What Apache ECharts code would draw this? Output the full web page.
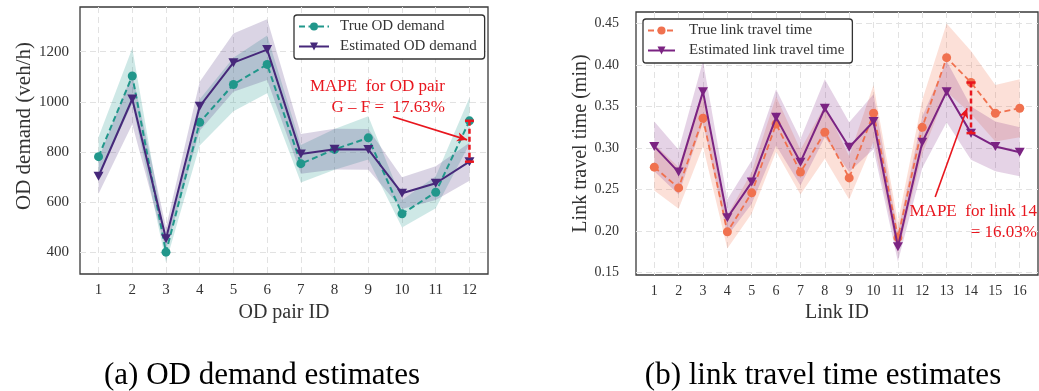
<!DOCTYPE html>
<html>
<head>
<meta charset="utf-8">
<script src="https://cdn.jsdelivr.net/npm/echarts@6/dist/echarts.min.js"></script>
<style>
  html, body { margin: 0; padding: 0; background: #fff; }
  #chart { width: 1039px; height: 391px; }
</style>
</head>
<body>
<div id="chart"></div>
<script>
// ---- (a) OD demand ----
const odPairIds = [1, 2, 3, 4, 5, 6, 7, 8, 9, 10, 11, 12];
const odTickLabels = ['1', '2', '3', '4', '5', '6', '7', '8', '9', '10', '11', '12'];
const odYTicks = [400, 600, 800, 1000, 1200];
const trueOD = [781, 1103, 400, 918, 1069, 1149, 753, 810, 856, 553, 639, 924];
const trueODUpper = [859, 1213, 440, 1010, 1176, 1264, 828, 891, 942, 608, 703, 1016];
const trueODLower = [703, 993, 360, 826, 962, 1034, 678, 729, 770, 498, 575, 832];
const estOD = [703, 1011, 454, 982, 1156, 1208, 792, 811, 810, 635, 675, 761];
const estODUpper = [773, 1112, 499, 1080, 1272, 1329, 871, 892, 891, 699, 743, 837];
const estODLower = [633, 910, 409, 884, 1040, 1087, 713, 730, 729, 572, 608, 685];

// ---- (b) link travel time ----
const linkIds = [1, 2, 3, 4, 5, 6, 7, 8, 9, 10, 11, 12, 13, 14, 15, 16];
const linkTickLabels = ['1', '2', '3', '4', '5', '6', '7', '8', '9', '10', '11', '12', '13', '14', '15', '16'];
const ttYTicks = [0.15, 0.20, 0.25, 0.30, 0.35, 0.40, 0.45];
const trueTT = [0.277, 0.252, 0.336, 0.199, 0.246, 0.329, 0.271, 0.319, 0.264, 0.342, 0.192, 0.325, 0.409, 0.379, 0.342, 0.348];
const trueTTUpper = [0.305, 0.277, 0.370, 0.219, 0.271, 0.362, 0.298, 0.351, 0.290, 0.376, 0.211, 0.358, 0.450, 0.417, 0.376, 0.383];
const trueTTLower = [0.249, 0.227, 0.302, 0.179, 0.221, 0.296, 0.244, 0.287, 0.238, 0.308, 0.173, 0.293, 0.368, 0.341, 0.308, 0.313];
const estTT = [0.302, 0.271, 0.368, 0.216, 0.259, 0.337, 0.283, 0.348, 0.301, 0.332, 0.181, 0.307, 0.368, 0.318, 0.302, 0.295];
const estTTUpper = [0.332, 0.298, 0.405, 0.238, 0.285, 0.371, 0.311, 0.383, 0.331, 0.365, 0.199, 0.338, 0.405, 0.350, 0.332, 0.325];
const estTTLower = [0.272, 0.244, 0.331, 0.194, 0.233, 0.303, 0.255, 0.313, 0.271, 0.299, 0.163, 0.276, 0.331, 0.286, 0.272, 0.266];

// highlighted MAPE gaps
const odHighlight = 12;      // OD pair G – F
const linkHighlight = 14;

const SERIF = '"Liberation Serif", "Times New Roman", serif';
const TEXT = '#333';
const RED = '#e8161e';
const GRIDLINE = { show: true, lineStyle: { color: '#e2e2e2', width: 1, type: [6, 4] } };

const C_TEAL = '#21978b', C_PURPLE_A = '#46287a';
const C_CORAL = '#f0714f', C_PURPLE_B = '#7b2382';

function pairs(ids, vals) { return ids.map((id, i) => [id, vals[i]]); }

// filled uncertainty band drawn as one polygon through the library's scales
function band(axisIdx, ids, lo, hi, fill) {
  return {
    type: 'custom', xAxisIndex: axisIdx, yAxisIndex: axisIdx, z: 1, silent: true,
    data: ids.map((id, i) => [id, lo[i], hi[i]]),
    encode: { x: 0, y: [1, 2] },
    renderItem(params, api) {
      if (params.dataIndex !== 0) return null;
      const up = ids.map((id, i) => api.coord([id, hi[i]]));
      const dn = ids.map((id, i) => api.coord([id, lo[i]])).reverse();
      return { type: 'polygon', shape: { points: up.concat(dn) }, style: { fill } };
    }
  };
}

// dashed red gap bar between true and estimated values at one id
function gapBar(axisIdx, id, a, b) {
  return {
    type: 'custom', xAxisIndex: axisIdx, yAxisIndex: axisIdx, z: 5, silent: true,
    data: [[id, a, b]],
    encode: { x: 0, y: [1, 2] },
    renderItem(params, api) {
      const p1 = api.coord([api.value(0), api.value(1)]);
      const p2 = api.coord([api.value(0), api.value(2)]);
      const cap = 4.5;
      return {
        type: 'group', children: [
          { type: 'line', shape: { x1: p1[0], y1: p1[1], x2: p2[0], y2: p2[1] },
            style: { stroke: RED, lineWidth: 2.5, lineDash: [5, 3] } },
          { type: 'line', shape: { x1: p1[0] - cap, y1: p1[1], x2: p1[0] + cap, y2: p1[1] },
            style: { stroke: RED, lineWidth: 2.5 } },
          { type: 'line', shape: { x1: p2[0] - cap, y1: p2[1], x2: p2[0] + cap, y2: p2[1] },
            style: { stroke: RED, lineWidth: 2.5 } }
        ]
      };
    }
  };
}

function arrow(from, to) {
  return {
    silent: true, animation: false,
    symbol: ['none', 'arrow'], symbolSize: [7, 10],
    lineStyle: { color: RED, width: 1.6, type: 'solid' },
    label: { show: false },
    emphasis: { disabled: true },
    data: [[{ coord: from }, { coord: to }]]
  };
}

function xAxis(gridIndex, ids, labels, min, max, name, size) {
  return {
    type: 'value', gridIndex, min, max,
    name, nameLocation: 'middle', nameGap: 28,
    nameTextStyle: { fontFamily: SERIF, fontSize: 20, color: TEXT },
    axisLine: { show: false },
    axisTick: { show: false, customValues: ids },
    axisLabel: {
      customValues: ids, formatter: v => labels[ids.indexOf(v)],
      fontFamily: SERIF, fontSize: size, color: TEXT, margin: 9
    },
    splitLine: GRIDLINE
  };
}

function yAxis(gridIndex, ticks, min, max, fmt, size, margin, name, nameGap) {
  return {
    type: 'value', gridIndex, min, max,
    name, nameLocation: 'middle', nameGap, nameRotate: 90,
    nameTextStyle: { fontFamily: SERIF, fontSize: 20, color: TEXT },
    axisLine: { show: false },
    axisTick: { show: false, customValues: ticks },
    axisLabel: {
      customValues: ticks, formatter: fmt,
      fontFamily: SERIF, fontSize: size, color: TEXT, margin
    },
    splitLine: GRIDLINE
  };
}

function legendBox(left, top, names, itemWidth, textPad) {
  return {
    orient: 'vertical', left, top, data: names,
    itemWidth, itemHeight: 10, itemGap: 5,
    padding: [4, 8, 5, 4],
    backgroundColor: '#fff', borderColor: '#333', borderWidth: 1.3, borderRadius: 3,
    textStyle: { fontFamily: SERIF, fontSize: 15, color: TEXT, padding: [0, 0, 0, textPad] },
    selectedMode: false
  };
}

const hi = odHighlight - 1, li = linkHighlight - 1;

const option = {
  animation: false,
  backgroundColor: '#fff',
  grid: [
    { left: 80, top: 7, width: 408, height: 267, show: true, borderColor: '#3a3a3a', borderWidth: 1.3, backgroundColor: '#fff' },
    { left: 636, top: 12, width: 402, height: 263, show: true, borderColor: '#3a3a3a', borderWidth: 1.3, backgroundColor: '#fff' }
  ],
  xAxis: [
    xAxis(0, odPairIds, odTickLabels, 0.45, 12.55, 'OD pair ID', 15),
    xAxis(1, linkIds, linkTickLabels, 0.25, 16.75, 'Link ID', 14)
  ],
  yAxis: [
    yAxis(0, odYTicks, 313, 1378, v => String(v), 15, 11, '', 0),
    yAxis(1, ttYTicks, 0.147, 0.464, v => v.toFixed(2), 14, 17, 'Link travel time (min)', 44)
  ],
  legend: [
    legendBox(294, 15, ['True OD demand', 'Estimated OD demand'], 30, 6),
    legendBox(643, 19, ['True link travel time', 'Estimated link travel time'], 27, 9)
  ],
  series: [
    band(0, odPairIds, trueODLower, trueODUpper, 'rgba(33,151,139,0.22)'),
    band(0, odPairIds, estODLower, estODUpper, 'rgba(70,40,122,0.2)'),
    {
      name: 'True OD demand', type: 'line', xAxisIndex: 0, yAxisIndex: 0, z: 3,
      data: pairs(odPairIds, trueOD),
      symbol: 'circle', symbolSize: 9,
      itemStyle: { color: C_TEAL },
      lineStyle: { color: C_TEAL, width: 2, type: [6, 3.5] },
      markLine: arrow([9.73, 940], [11.93, 848])
    },
    {
      name: 'Estimated OD demand', type: 'line', xAxisIndex: 0, yAxisIndex: 0, z: 4,
      data: pairs(odPairIds, estOD),
      symbol: 'triangle', symbolRotate: 180, symbolSize: [10, 9],
      itemStyle: { color: C_PURPLE_A },
      lineStyle: { color: C_PURPLE_A, width: 2 }
    },
    gapBar(0, odPairIds[hi], trueOD[hi], estOD[hi]),

    band(1, linkIds, trueTTLower, trueTTUpper, 'rgba(240,113,79,0.22)'),
    band(1, linkIds, estTTLower, estTTUpper, 'rgba(123,35,130,0.2)'),
    {
      name: 'True link travel time', type: 'line', xAxisIndex: 1, yAxisIndex: 1, z: 3,
      data: pairs(linkIds, trueTT),
      symbol: 'circle', symbolSize: 9,
      itemStyle: { color: C_CORAL },
      lineStyle: { color: C_CORAL, width: 1.8, type: [6, 3.5] },
      markLine: arrow([12.53, 0.241], [13.84, 0.348])
    },
    {
      name: 'Estimated link travel time', type: 'line', xAxisIndex: 1, yAxisIndex: 1, z: 4,
      data: pairs(linkIds, estTT),
      symbol: 'triangle', symbolRotate: 180, symbolSize: [10, 9],
      itemStyle: { color: C_PURPLE_B },
      lineStyle: { color: C_PURPLE_B, width: 2 }
    },
    gapBar(1, linkIds[li], trueTT[li], estTT[li])
  ],
  graphic: [
    { type: 'text', left: 'auto', x: 24, y: 126, rotation: Math.PI / 2,
      style: { text: 'OD demand (veh/h)', font: `21px ${SERIF}`, fill: TEXT, align: 'center', verticalAlign: 'middle' } },
    { type: 'text', x: 445, y: 87, z: 10,
      style: { text: 'MAPE  for OD pair', font: `17px ${SERIF}`, fill: RED, align: 'right', verticalAlign: 'middle' } },
    { type: 'text', x: 445, y: 108, z: 10,
      style: { text: 'G – F =  17.63%', font: `17px ${SERIF}`, fill: RED, align: 'right', verticalAlign: 'middle' } },
    { type: 'text', x: 1037, y: 212, z: 10,
      style: { text: 'MAPE  for link 14', font: `17px ${SERIF}`, fill: RED, align: 'right', verticalAlign: 'middle' } },
    { type: 'text', x: 1037, y: 233, z: 10,
      style: { text: '= 16.03%', font: `17px ${SERIF}`, fill: RED, align: 'right', verticalAlign: 'middle' } },
    { type: 'text', x: 262, y: 376,
      style: { text: '(a) OD demand estimates', font: `31px ${SERIF}`, fill: '#000', align: 'center', verticalAlign: 'middle' } },
    { type: 'text', x: 823, y: 376,
      style: { text: '(b) link travel time estimates', font: `31px ${SERIF}`, fill: '#000', align: 'center', verticalAlign: 'middle' } }
  ]
};

const chart = echarts.init(document.getElementById('chart'), null, { renderer: 'canvas' });
chart.setOption(option);
</script>
</body>
</html>
